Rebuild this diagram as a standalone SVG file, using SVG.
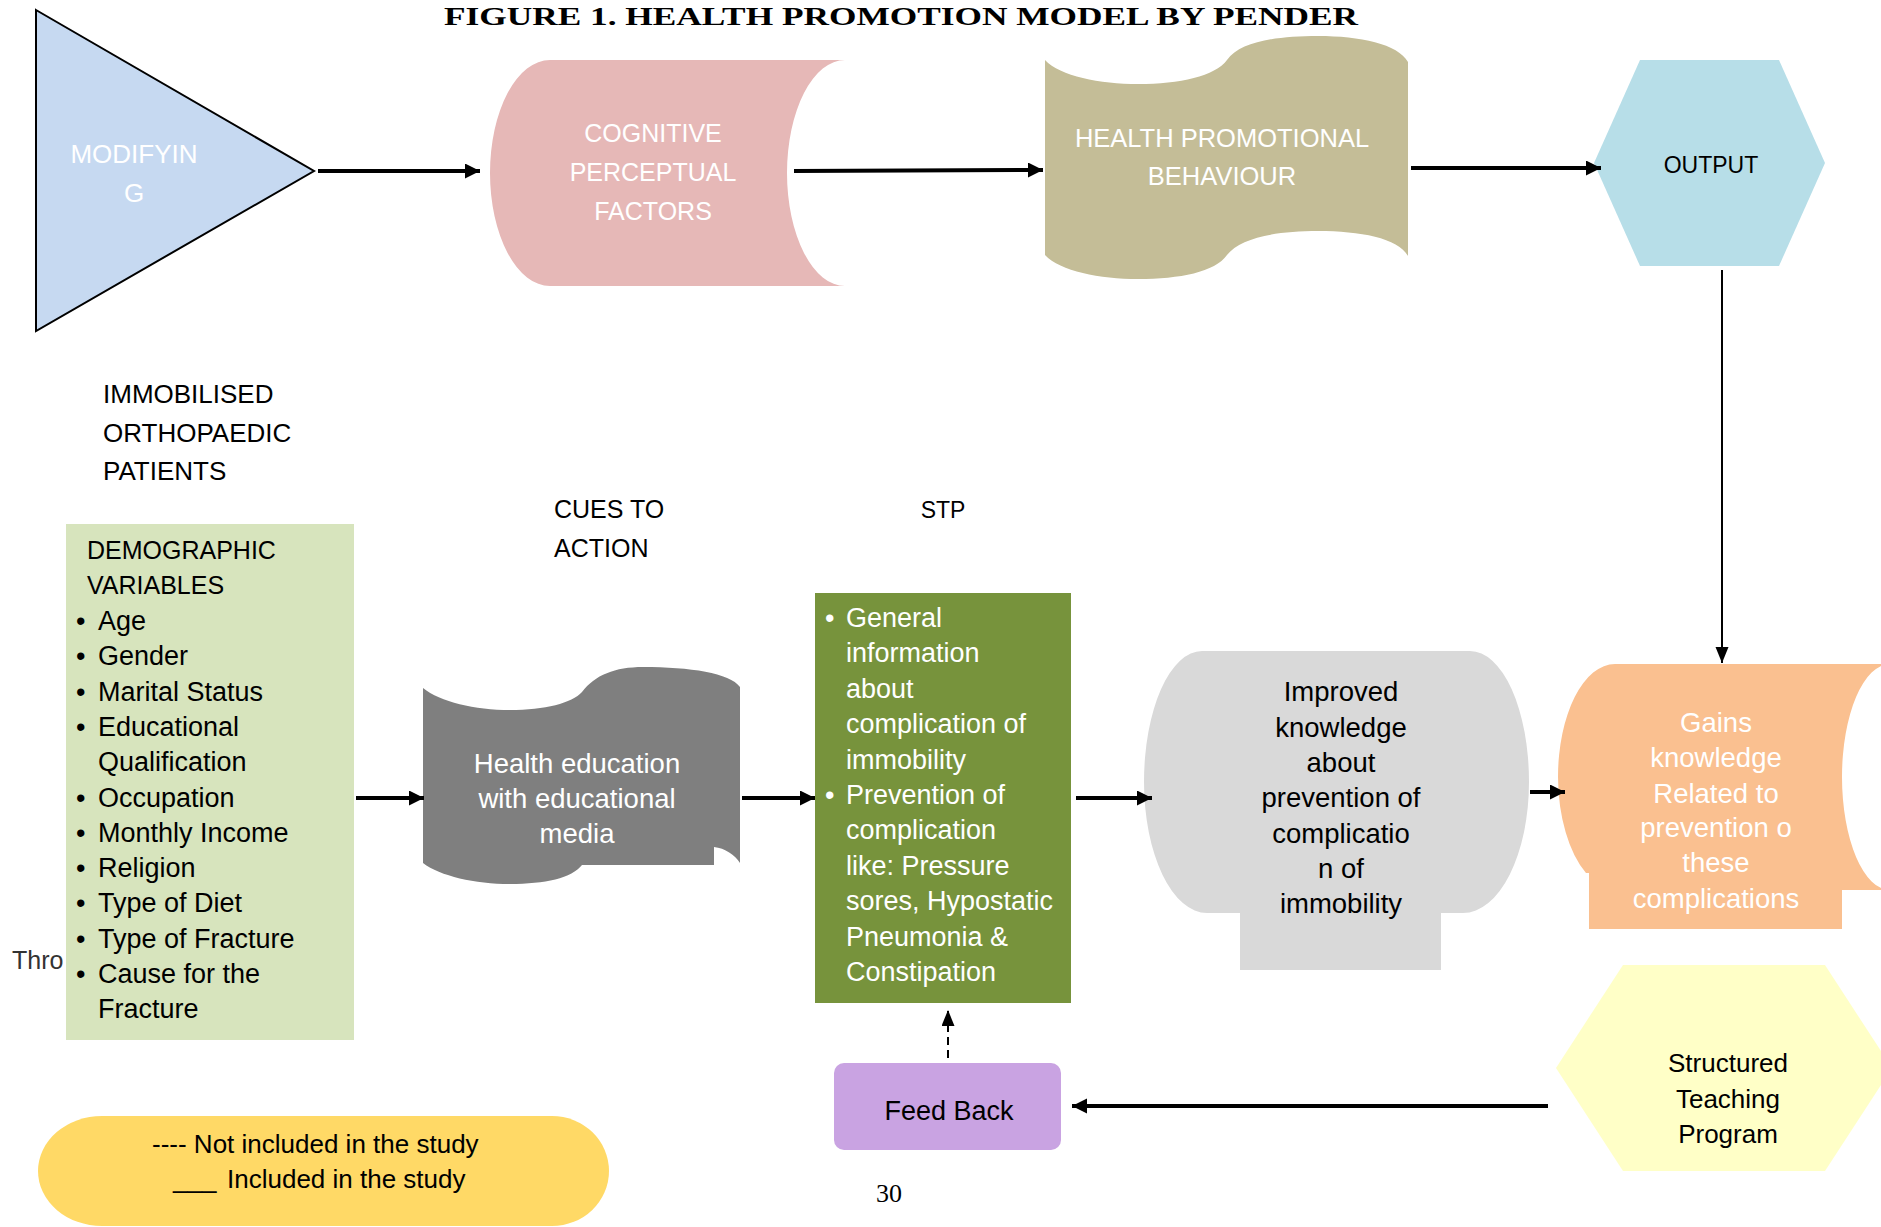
<svg xmlns="http://www.w3.org/2000/svg" width="1881" height="1227" viewBox="0 0 1881 1227">
<style>
text{font-family:"Liberation Sans",Arial,sans-serif}
.w{fill:#ffffff}
.k{fill:#000000}
.m{text-anchor:middle}
.thick{stroke:#000;stroke-width:4;fill:none}
.thin{stroke:#000;stroke-width:2;fill:none}
</style>
<defs>
<marker id="ah" markerUnits="userSpaceOnUse" markerWidth="16" markerHeight="16" refX="15" refY="7.5" orient="auto">
<path d="M0,0 L15,7.5 L0,15 Z" fill="#000"/>
</marker>
<marker id="ahs" markerUnits="userSpaceOnUse" markerWidth="16" markerHeight="14" refX="16" refY="6.5" orient="auto">
<path d="M0,0 L16,6.5 L0,13 Z" fill="#000"/>
</marker>
</defs>
<rect width="1881" height="1227" fill="#fff"/>

<text x="444" y="25" font-weight="bold" font-size="26" textLength="914" lengthAdjust="spacingAndGlyphs" style="font-family:'Liberation Serif',serif">FIGURE 1. HEALTH PROMOTION MODEL BY PENDER</text>

<g id="modifying">
<polygon points="36,10 314,171 36,331" fill="#c6d9f1" stroke="#000" stroke-width="2"/>
<text class="w m" x="134" y="163" font-size="26">MODIFYIN</text>
<text class="w m" x="134" y="202" font-size="26">G</text>
</g>

<g id="cognitive">
<path d="M550,60 L845,60 A58,113 0 0 0 787,173 A58,113 0 0 0 845,286 L550,286 A60,113 0 0 1 490,173 A60,113 0 0 1 550,60 Z" fill="#e6b8b7"/>
<text class="w m" x="653" y="142" font-size="25">COGNITIVE</text>
<text class="w m" x="653" y="181" font-size="25">PERCEPTUAL</text>
<text class="w m" x="653" y="220" font-size="25">FACTORS</text>
</g>

<g id="hpb">
<path d="M1045,60 C1060,76 1100,84 1138,84 C1180,84 1215,76 1227,60 C1240,42 1275,36 1318,36 C1360,36 1398,44 1408,62 L1408,256 C1398,238 1360,231 1318,231 C1275,231 1240,238 1227,255 C1215,272 1180,279 1138,279 C1100,279 1060,271 1045,255 Z" fill="#c4bd97"/>
<text class="w m" x="1222" y="147" font-size="25.5">HEALTH PROMOTIONAL</text>
<text class="w m" x="1222" y="185" font-size="25.5">BEHAVIOUR</text>
</g>

<g id="output">
<polygon points="1640,60 1779,60 1825,163 1779,266 1640,266 1594,163" fill="#b7dee8"/>
<text class="k m" x="1711" y="173" font-size="23">OUTPUT</text>
</g>

<g id="labels">
<text class="k" x="103" y="403" font-size="26">IMMOBILISED</text>
<text class="k" x="103" y="442" font-size="26">ORTHOPAEDIC</text>
<text class="k" x="103" y="480" font-size="26">PATIENTS</text>
<text class="k" x="554" y="518" font-size="25">CUES TO</text>
<text class="k" x="554" y="557" font-size="25">ACTION</text>
<text class="k m" x="943" y="518" font-size="23">STP</text>
<text x="12" y="969" font-size="25" fill="#333">Thro</text>
</g>

<g id="demographic">
<rect x="66" y="524" width="288" height="516" fill="#d7e4bd"/>
<text class="k" x="87" y="559" font-size="25">DEMOGRAPHIC</text>
<text class="k" x="87" y="594" font-size="25">VARIABLES</text>
<g font-size="27" class="k">
<text x="76" y="630">•</text><text x="98" y="630">Age</text>
<text x="76" y="665">•</text><text x="98" y="665">Gender</text>
<text x="76" y="701">•</text><text x="98" y="701">Marital Status</text>
<text x="76" y="736">•</text><text x="98" y="736">Educational</text>
<text x="98" y="771">Qualification</text>
<text x="76" y="807">•</text><text x="98" y="807">Occupation</text>
<text x="76" y="842">•</text><text x="98" y="842">Monthly Income</text>
<text x="76" y="877">•</text><text x="98" y="877">Religion</text>
<text x="76" y="912">•</text><text x="98" y="912">Type of Diet</text>
<text x="76" y="948">•</text><text x="98" y="948">Type of Fracture</text>
<text x="76" y="983">•</text><text x="98" y="983">Cause for the</text>
<text x="98" y="1018">Fracture</text>
</g>
</g>

<g id="health-education">
<path d="M423,688 C440,702 475,710 510,710 C545,710 572,703 582,692 C595,675 615,667 643,667 C690,667 730,673 740,687 L740,863 C735,855 725,848 714,847 L714,865 L582,865 C572,878 545,884 510,884 C475,884 440,876 423,863 Z" fill="#7f7f7f"/>
<text class="w m" x="577" y="773" font-size="27.5">Health education</text>
<text class="w m" x="577" y="808" font-size="27.5">with educational</text>
<text class="w m" x="577" y="843" font-size="27.5">media</text>
</g>

<g id="stp">
<rect x="815" y="593" width="256" height="410" fill="#77933c"/>
<g class="w" font-size="27">
<text x="825" y="627">•</text><text x="846" y="627">General</text>
<text x="846" y="662">information</text>
<text x="846" y="698">about</text>
<text x="846" y="733">complication of</text>
<text x="846" y="769">immobility</text>
<text x="825" y="804">•</text><text x="846" y="804">Prevention of</text>
<text x="846" y="839">complication</text>
<text x="846" y="875">like: Pressure</text>
<text x="846" y="910">sores, Hypostatic</text>
<text x="846" y="946">Pneumonia &amp;</text>
<text x="846" y="981">Constipation</text>
</g>
</g>

<g id="improved">
<path d="M1202,651 L1470,651 A59,131 0 0 1 1529,782 A66,131 0 0 1 1463,913 L1441,913 L1441,970 L1240,970 L1240,913 L1207,913 A63,131 0 0 1 1144,782 A58,131 0 0 1 1202,651 Z" fill="#d9d9d9"/>
<g class="k m" font-size="27.5">
<text x="1341" y="701">Improved</text>
<text x="1341" y="737">knowledge</text>
<text x="1341" y="772">about</text>
<text x="1341" y="807">prevention of</text>
<text x="1341" y="843">complicatio</text>
<text x="1341" y="878">n of</text>
<text x="1341" y="913">immobility</text>
</g>
</g>

<g id="gains">
<path d="M1615,664 L1890,664 A48,113 0 0 0 1842,777 A48,113 0 0 0 1890,890 L1842,890 L1842,929 L1589,929 L1589,873 L1586,873 A57,113 0 0 1 1558,777 A57,113 0 0 1 1615,664 Z" fill="#fac090"/>
<g class="w m" font-size="27.5">
<text x="1716" y="732">Gains</text>
<text x="1716" y="767">knowledge</text>
<text x="1716" y="803">Related to</text>
<text x="1716" y="837">prevention o</text>
<text x="1716" y="872">these</text>
<text x="1716" y="908">complications</text>
</g>
</g>

<g id="structured-teaching">
<polygon points="1623,965 1825,965 1892,1068 1825,1171 1623,1171 1556,1068" fill="#ffffc7"/>
<text class="k m" x="1728" y="1072" font-size="26">Structured</text>
<text class="k m" x="1728" y="1108" font-size="26">Teaching</text>
<text class="k m" x="1728" y="1143" font-size="26">Program</text>
</g>

<g id="feedback">
<rect x="834" y="1063" width="227" height="87" rx="10" fill="#c9a3e2"/>
<text class="k m" x="949" y="1120" font-size="27">Feed Back</text>
</g>

<g id="legend">
<path d="M102,1116 L552,1116 A57,55 0 0 1 609,1171 A57,55 0 0 1 552,1226 L102,1226 A64,55 0 0 1 38,1171 A64,55 0 0 1 102,1116 Z" fill="#ffd966"/>
<text class="k" x="152" y="1153" font-size="26">---- Not included in the study</text>
<text class="k" y="1188" font-size="26"><tspan x="173">___</tspan><tspan x="227">Included in the study</tspan></text>
</g>

<text x="889" y="1202" font-size="26" text-anchor="middle" style="font-family:'Liberation Serif',serif">30</text>

<g id="connectors">
<line class="thick" x1="318" y1="171" x2="480" y2="171" marker-end="url(#ah)"/>
<line class="thick" x1="794" y1="171" x2="1043" y2="170" marker-end="url(#ah)"/>
<line class="thick" x1="1411" y1="168" x2="1601" y2="168" marker-end="url(#ah)"/>
<line class="thin" x1="1722" y1="270" x2="1722" y2="663" marker-end="url(#ahs)"/>
<line class="thick" x1="356" y1="798" x2="424" y2="798" marker-end="url(#ah)"/>
<line class="thick" x1="742" y1="798" x2="815" y2="798" marker-end="url(#ah)"/>
<line class="thick" x1="1076" y1="798" x2="1152" y2="798" marker-end="url(#ah)"/>
<line class="thick" x1="1530" y1="792" x2="1565" y2="792" marker-end="url(#ah)"/>
<line class="thick" x1="1548" y1="1106" x2="1072" y2="1106" marker-end="url(#ah)"/>
<line x1="948" y1="1058" x2="948" y2="1010" stroke="#000" stroke-width="2" stroke-dasharray="8,5" marker-end="url(#ahs)"/>
</g>
</svg>
